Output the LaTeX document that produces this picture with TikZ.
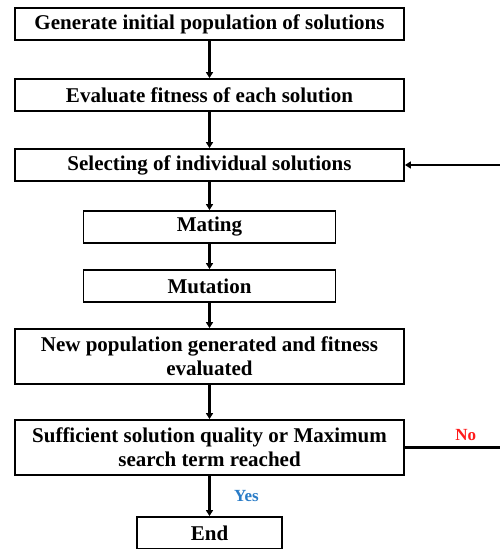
\documentclass[tikz,border=0pt]{standalone}
\usepackage{fontspec}
\setmainfont{Liberation Serif}
\usepackage{tikz}
\usetikzlibrary{arrows.meta,positioning}
\definecolor{GANo}{HTML}{FF1A1A}
\definecolor{GAYes}{HTML}{2A7CC7}

\begin{document}
\begin{tikzpicture}[
        box/.style={draw,line width=1.8pt,align=center,
                    minimum width=389pt,minimum height=32pt,inner sep=2pt,
                    font=\fontsize{21}{24}\selectfont\bfseries},
        arrow/.style={-{Triangle[length=6pt,width=7pt]},line width=2.6pt},
        lbl/.style={font=\fontsize{17}{20}\selectfont\bfseries}]
        \useasboundingbox (0,0) rectangle (500pt,-549pt);
        \node[box] (init) at (209.5pt,-24pt)
          {Generate initial population of solutions};
        \node[box,below=37.2pt of init] (eval)
          {Evaluate fitness of each solution};
        \node[box,below=36.2pt of eval] (select)
          {Selecting of individual solutions};
        \node[box,minimum width=252pt,below=28.2pt of select] (mate)
          {Mating};
        \node[box,minimum width=252pt,below=25.2pt of mate] (mutate)
          {Mutation};
        \node[box,minimum height=55pt,below=25.2pt of mutate] (newpop)
          {New population generated and fitness\\evaluated};
        \node[box,minimum height=55pt,below=34.2pt of newpop] (check)
          {Sufficient solution quality or Maximum\\search term reached};
        \node[box,minimum width=145pt,below=40.2pt of check] (finish)
          {End};
        \coordinate (edge) at (503pt,0);
        \draw[arrow] (init)--(eval);
        \draw[arrow] (eval)--(select);
        \draw[arrow] (select)--(mate);
        \draw[arrow] (mate)--(mutate);
        \draw[arrow] (mutate)--(newpop);
        \draw[arrow] (newpop)--(check);
        \draw[arrow] (check)--(finish)
          node[lbl,text=GAYes,midway,right=20pt] {Yes};
        \draw[arrow] (check.east)--(check.east -| edge)
          node[lbl,text=GANo,pos=0.62,above=2pt] {No}
          --(select.east -| edge)--(select.east);
      \end{tikzpicture}
\end{document}
